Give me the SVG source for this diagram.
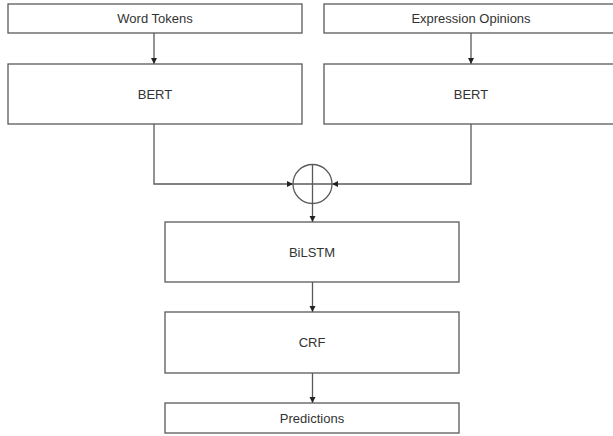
<svg xmlns="http://www.w3.org/2000/svg" width="613" height="436" viewBox="0 0 613 436">
<defs>
<marker id="ah" markerWidth="7" markerHeight="7" refX="6" refY="3.5" orient="auto" markerUnits="userSpaceOnUse">
<path d="M0,0.5 L6,3.5 L0,6.5 Z" fill="#222"/>
</marker>
<style>
.box{fill:#fff;stroke:#5a5a5a;stroke-width:1.3}
.lbl{font-family:"Liberation Sans",Arial,sans-serif;font-size:13px;fill:#333;text-anchor:middle;dominant-baseline:central}
.edge{fill:none;stroke:#5a5a5a;stroke-width:1.3}
</style>
</defs>
<rect width="613" height="436" fill="#fff"/>
<g id="connectors">
<line class="edge" x1="154" y1="33" x2="154" y2="64" marker-end="url(#ah)"/>
<line class="edge" x1="471" y1="33" x2="471" y2="64" marker-end="url(#ah)"/>
<polyline class="edge" points="154,124 154,184 293,184" marker-end="url(#ah)"/>
<polyline class="edge" points="471,124 471,184 332,184" marker-end="url(#ah)"/>
<line class="edge" x1="312.5" y1="203.5" x2="312.5" y2="222" marker-end="url(#ah)"/>
<line class="edge" x1="312.5" y1="282" x2="312.5" y2="312" marker-end="url(#ah)"/>
<line class="edge" x1="312.5" y1="373" x2="312.5" y2="403" marker-end="url(#ah)"/>
</g>
<g id="word-tokens"><rect class="box" x="8" y="4" width="294" height="29"/><text class="lbl" x="155" y="18.5">Word Tokens</text></g>
<g id="expression-opinions"><rect class="box" x="324" y="4" width="294" height="29"/><text class="lbl" x="471" y="18.5">Expression Opinions</text></g>
<g id="bert-left"><rect class="box" x="8" y="64" width="294" height="60"/><text class="lbl" x="155" y="94">BERT</text></g>
<g id="bert-right"><rect class="box" x="324" y="64" width="294" height="60"/><text class="lbl" x="471" y="94">BERT</text></g>
<g id="concat"><circle cx="312.5" cy="184" r="19.5" fill="none" stroke="#5a5a5a" stroke-width="1.3"/><line class="edge" x1="312.5" y1="164.5" x2="312.5" y2="203.5"/><line class="edge" x1="293" y1="184" x2="332" y2="184"/></g>
<g id="bilstm"><rect class="box" x="165" y="222" width="294" height="60"/><text class="lbl" x="312" y="252">BiLSTM</text></g>
<g id="crf"><rect class="box" x="165" y="312" width="294" height="61"/><text class="lbl" x="312" y="342.5">CRF</text></g>
<g id="predictions"><rect class="box" x="165" y="403" width="294" height="30"/><text class="lbl" x="312" y="418">Predictions</text></g>
</svg>
